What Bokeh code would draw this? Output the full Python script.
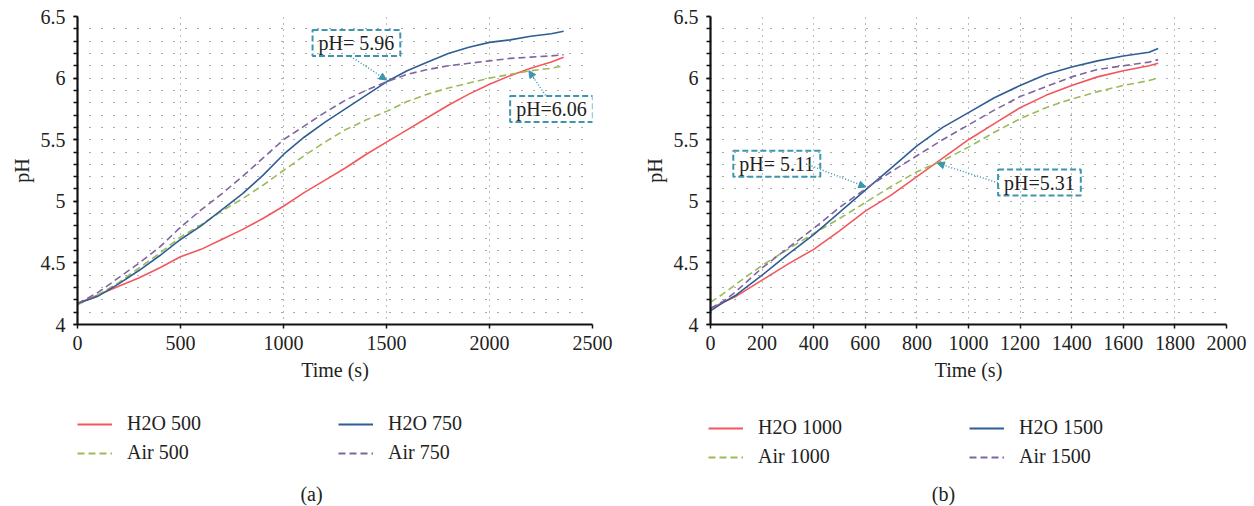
from bokeh.plotting import figure
from bokeh.models import (FixedTicker, NumeralTickFormatter, Legend, LegendItem,
                          Label, Arrow, NormalHead, Range1d)
from bokeh.layouts import row, column
from bokeh.embed import file_html
from bokeh.resources import INLINE

FONT = "Liberation Serif"
RED = "#F2575C"
BLUE = "#2F5D95"
GREEN = "#9BBB59"
PURPLE = "#8064A2"
TEAL = "#3D96AD"
TXT = "#222222"

# ---------------- (a) ----------------
t_a = [0, 100, 200, 300, 400, 500, 600, 700, 800, 900, 1000, 1100, 1200, 1300,
       1400, 1500, 1600, 1700, 1800, 1900, 2000, 2100, 2200, 2300, 2360]
h2o_500 = [4.17, 4.24, 4.31, 4.38, 4.46, 4.55, 4.61, 4.69, 4.77, 4.86, 4.96, 5.07, 5.17,
           5.27, 5.38, 5.48, 5.58, 5.68, 5.78, 5.87, 5.95, 6.02, 6.08, 6.13, 6.17]
h2o_750 = [4.17, 4.23, 4.33, 4.44, 4.56, 4.69, 4.80, 4.93, 5.06, 5.21, 5.38, 5.52, 5.64,
           5.75, 5.86, 5.97, 6.06, 6.13, 6.20, 6.25, 6.29, 6.31, 6.34, 6.36, 6.38]
air_500 = [4.16, 4.24, 4.34, 4.46, 4.58, 4.71, 4.81, 4.92, 5.02, 5.13, 5.25, 5.37, 5.48,
           5.58, 5.66, 5.73, 5.81, 5.87, 5.92, 5.96, 6.00, 6.03, 6.06, 6.08, 6.10]
air_750 = [4.17, 4.26, 4.38, 4.50, 4.63, 4.79, 4.93, 5.06, 5.20, 5.35, 5.50, 5.61, 5.72,
           5.82, 5.90, 5.97, 6.03, 6.07, 6.10, 6.12, 6.14, 6.16, 6.17, 6.18, 6.19]

# ---------------- (b) ----------------
t_b = [0, 50, 100, 200, 300, 400, 500, 600, 700, 800, 900, 1000, 1100, 1200, 1300,
       1400, 1500, 1600, 1700, 1735]
h2o_1000 = [4.13, 4.18, 4.23, 4.36, 4.49, 4.61, 4.76, 4.92, 5.05, 5.20, 5.35, 5.50, 5.63,
            5.76, 5.86, 5.94, 6.01, 6.06, 6.10, 6.12]
h2o_1500 = [4.11, 4.18, 4.24, 4.40, 4.57, 4.73, 4.91, 5.09, 5.27, 5.45, 5.60, 5.72, 5.84,
            5.94, 6.03, 6.09, 6.14, 6.18, 6.21, 6.24]
air_1000 = [4.18, 4.25, 4.33, 4.48, 4.61, 4.74, 4.86, 4.99, 5.12, 5.24, 5.33, 5.44, 5.56,
            5.67, 5.76, 5.83, 5.89, 5.94, 5.98, 6.00]
air_1500 = [4.13, 4.19, 4.27, 4.46, 4.62, 4.78, 4.95, 5.10, 5.24, 5.37, 5.50, 5.62, 5.74,
            5.85, 5.93, 6.01, 6.07, 6.10, 6.13, 6.15]

y_major = [4, 4.5, 5, 5.5, 6, 6.5]
y_minor = [round(4 + 0.1 * i, 1) for i in range(26)]
x_ticks_a = [0, 500, 1000, 1500, 2000, 2500]
x_ticks_b = [0, 200, 400, 600, 800, 1000, 1200, 1400, 1600, 1800, 2000]

TOTAL_H = 506
TOP = 16
FRAME_H = 308
PLOT_H = 394
LEG_H = TOTAL_H - PLOT_H


def make_fig(width, xmax, xticks, left, right):
    p = figure(width=width, height=PLOT_H, x_range=Range1d(0, xmax), y_range=Range1d(4, 6.5),
               output_backend="svg", toolbar_location=None,
               min_border_left=left, min_border_right=right,
               min_border_top=TOP, min_border_bottom=PLOT_H - TOP - FRAME_H)
    p.outline_line_color = None
    p.background_fill_color = "white"
    p.border_fill_color = "white"
    for ax in (p.xaxis[0], p.yaxis[0]):
        ax.axis_line_width = 2.2
        ax.axis_line_color = "#111111"
        ax.major_tick_line_color = "#111111"
        ax.minor_tick_line_color = "#111111"
        ax.major_tick_line_width = 1.5
        ax.minor_tick_line_width = 1.5
        ax.major_tick_in = 0
        ax.minor_tick_in = 0
        ax.major_label_text_font = FONT
        ax.major_label_text_font_size = "20px"
        ax.major_label_text_color = TXT
        ax.axis_label_text_font = FONT
        ax.axis_label_text_font_size = "20px"
        ax.axis_label_text_font_style = "normal"
        ax.axis_label_text_color = TXT
    p.xaxis.ticker = FixedTicker(ticks=xticks)
    p.xaxis.major_tick_out = 4
    p.xaxis.minor_tick_out = 0
    p.xaxis.major_label_standoff = 7
    p.xaxis.axis_label = "Time (s)"
    p.xaxis.axis_label_standoff = 6
    p.yaxis.ticker = FixedTicker(ticks=y_major, minor_ticks=y_minor)
    p.yaxis.formatter = NumeralTickFormatter(format="0.[0]")
    p.yaxis.major_tick_out = 4
    p.yaxis.minor_tick_out = 4
    p.yaxis.major_label_standoff = 8
    p.yaxis.axis_label = "pH"
    p.yaxis.axis_label_standoff = 5
    p.ygrid.ticker = FixedTicker(ticks=y_minor)
    p.ygrid.grid_line_color = "#555555"
    p.ygrid.grid_line_dash = "1 11"
    p.ygrid.grid_line_width = 1
    p.xgrid.ticker = FixedTicker(ticks=xticks)
    p.xgrid.grid_line_color = "#777777"
    p.xgrid.grid_line_dash = "1 5"
    p.xgrid.grid_line_width = 1
    return p


def make_legend_fig(width, t, series, caption, lx, ly, cap_x):
    # legend panel below each chart; its lines sit outside the visible range
    q = figure(width=width, height=LEG_H, x_range=Range1d(-100, -90), y_range=Range1d(0, 1),
               x_axis_type=None, y_axis_type=None, output_backend="svg",
               toolbar_location=None, min_border=0)
    q.outline_line_color = None
    q.grid.visible = False
    items = []
    for label, ys, color, dash in series:
        r = q.line(t, ys, line_color=color, line_width=1.8, line_dash=dash)
        items.append(LegendItem(label=label, renderers=[r]))
    for k in range(2):
        lg = Legend(items=items[2 * k:2 * k + 2], location=(lx + 261 * k, ly),
                    orientation="vertical", padding=0, margin=0, spacing=6,
                    glyph_width=35, glyph_height=22, label_height=22, label_standoff=15,
                    label_text_font=FONT, label_text_font_size="20px",
                    label_text_color=TXT, background_fill_alpha=0,
                    border_line_color=None)
        q.add_layout(lg)
    q.add_layout(Label(x=cap_x, y=13, x_units="screen", y_units="screen",
                       text=caption, text_font=FONT, text_font_size="20px",
                       text_color=TXT, text_align="center", text_baseline="alphabetic"))
    return q


def add_lines(p, t, series):
    for label, ys, color, dash in series:
        p.line(t, ys, line_color=color, line_width=1.6, line_dash=dash)


def annotate(p, text, bx, by, x0, y0, x1, y1):
    p.add_layout(Label(x=bx, y=by, text=text, text_font=FONT, text_font_size="20px",
                       text_color=TXT, text_align="center", text_baseline="middle",
                       border_line_color=TEAL, border_line_dash="6 3",
                       border_line_width=2, padding=(6, 2)))
    p.add_layout(Arrow(x_start=x0, y_start=y0, x_end=x1, y_end=y1,
                       line_color=TEAL, line_width=1.5, line_dash="1 2",
                       end=NormalHead(size=7, fill_color=TEAL, line_color=TEAL)))


series_a = [("H2O 500", h2o_500, RED, "solid"),
            ("Air 500", air_500, GREEN, "7 4"),
            ("H2O 750", h2o_750, BLUE, "solid"),
            ("Air 750", air_750, PURPLE, "7 4")]
series_b = [("H2O 1000", h2o_1000, RED, "solid"),
            ("Air 1000", air_1000, GREEN, "7 4"),
            ("H2O 1500", h2o_1500, BLUE, "solid"),
            ("Air 1500", air_1500, PURPLE, "7 4")]

pa = make_fig(640, 2500, x_ticks_a, 77, 48)
add_lines(pa, t_a, series_a)
annotate(pa, "pH= 5.96", 1354, 6.284, 1326, 6.176, 1500, 5.985)
annotate(pa, "pH=6.06", 2301, 5.75, 2272, 5.86, 2191, 6.06)

pb = make_fig(610, 2000, x_ticks_b, 67, 24)
add_lines(pb, t_b, series_b)
annotate(pb, "pH= 5.11", 257, 5.305, 370, 5.305, 602, 5.116)
annotate(pb, "pH=5.31", 1275, 5.152, 1114, 5.15, 879, 5.31)

la = make_legend_fig(640, t_a, series_a, "(a)", 77, 42, 311)
lb = make_legend_fig(610, t_b, series_b, "(b)", 68, 38, 303)

layout = column(row(pa, pb), row(la, lb))
open("out.html", "w").write(file_html(layout, INLINE))
